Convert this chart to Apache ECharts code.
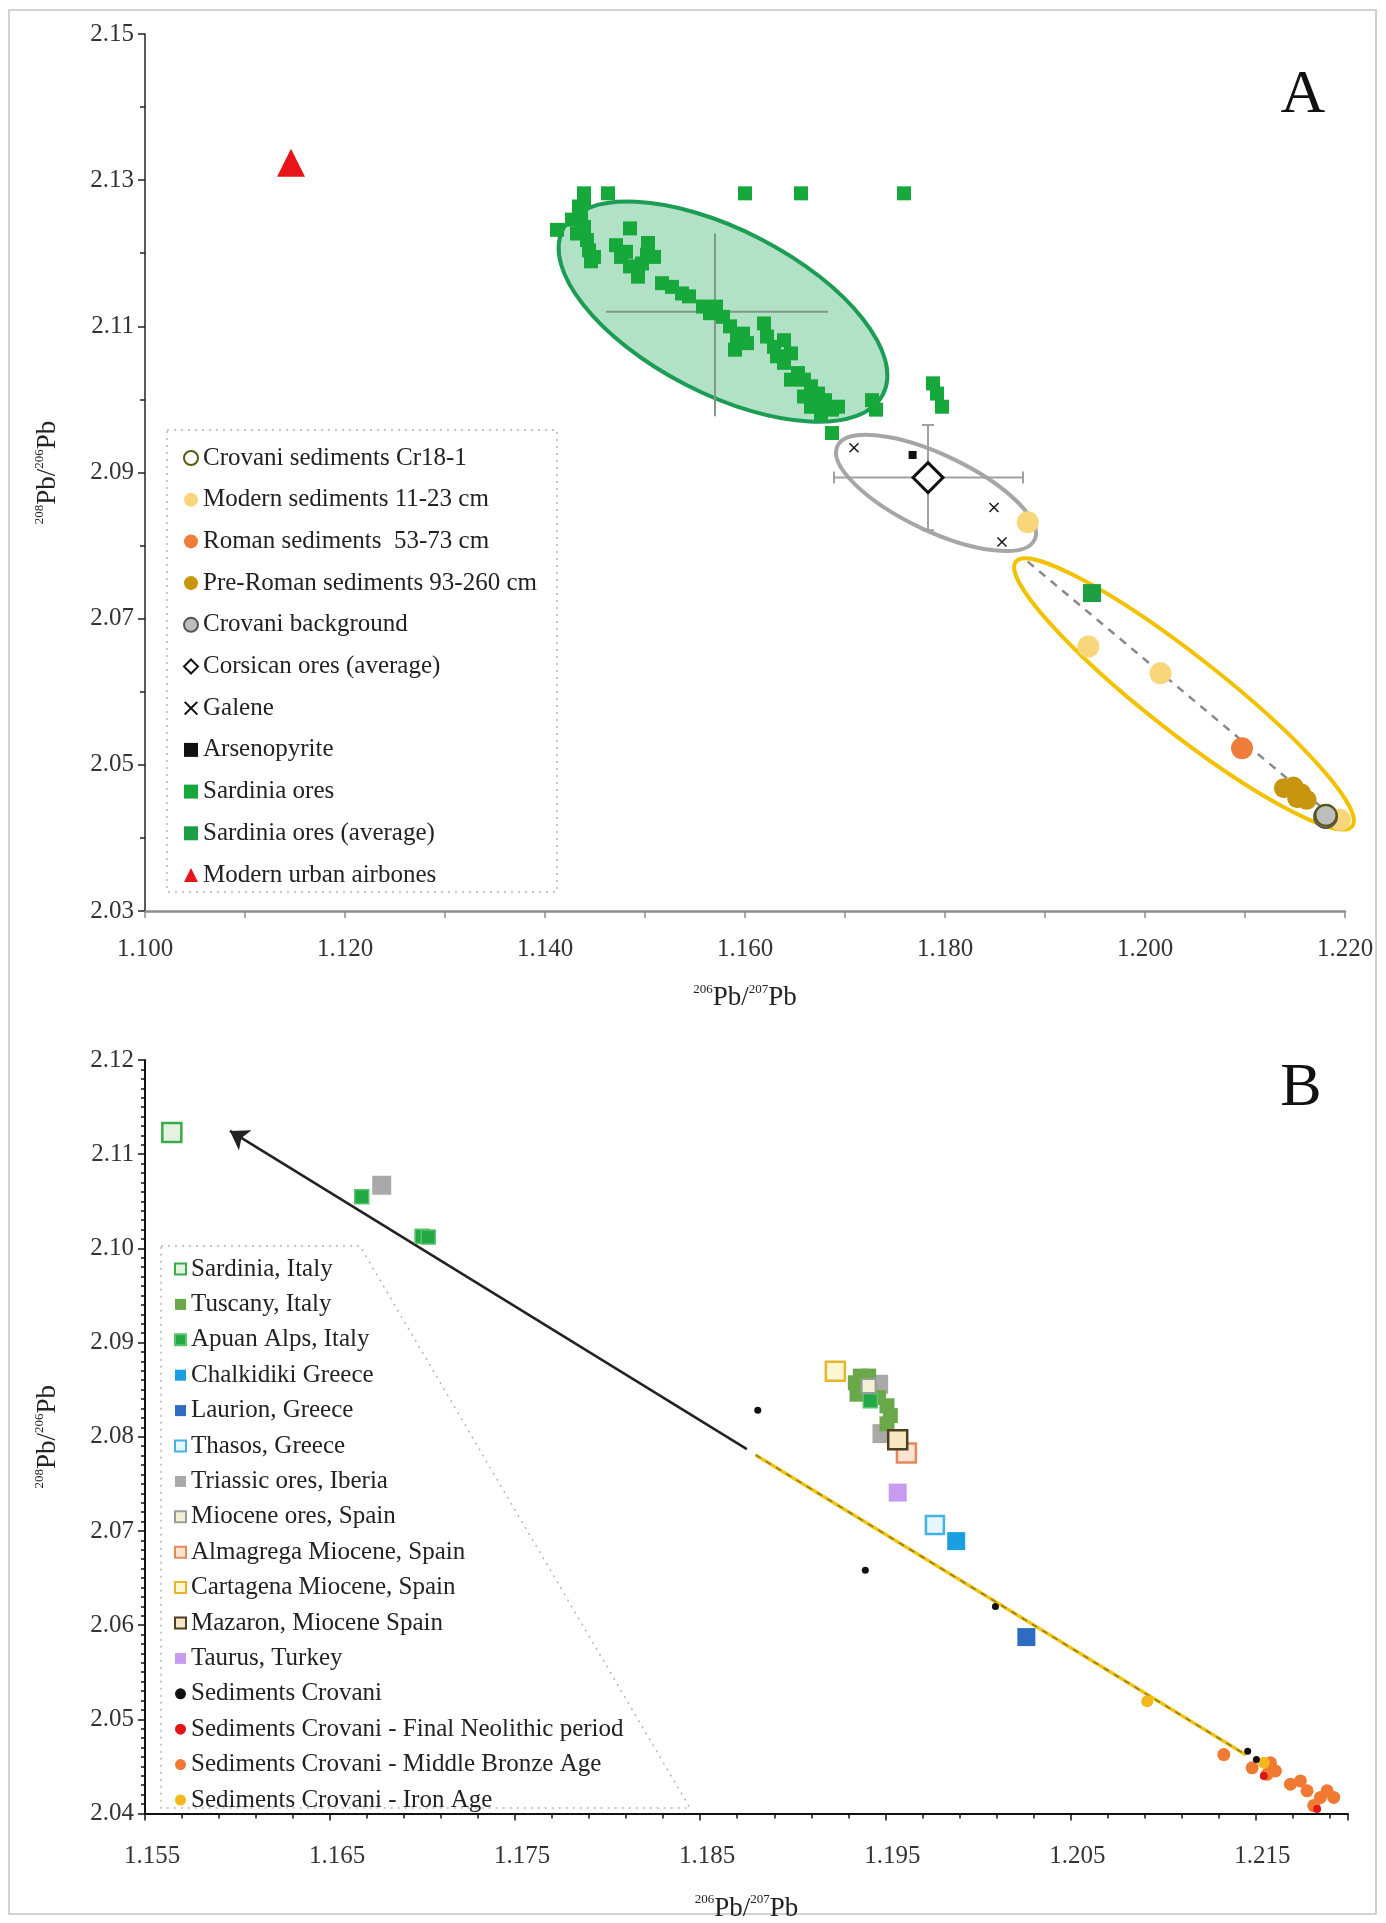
<!DOCTYPE html>
<html>
<head>
<meta charset="utf-8">
<script src="https://cdn.jsdelivr.net/npm/echarts@6/dist/echarts.min.js"></script>
<style>
  html, body { margin: 0; background: #fff; }
  #chart { width: 1386px; height: 1923px; }
</style>
</head>
<body>
<div id="chart"></div>
<script>
// ---------- Panel A : 206Pb/207Pb vs 208Pb/206Pb ----------
const crovaniCr18 = [[1.2181, 2.0431]];
const modernSed = [[1.18827, 2.0832], [1.19434, 2.06618], [1.20155, 2.06254], [1.2195, 2.0425]];
const romanSed = [[1.2097, 2.05228]];
const preRomanSed = [[1.21389, 2.04681], [1.21484, 2.04703], [1.2156, 2.04612], [1.21616, 2.04521], [1.21522, 2.04544]];
const crovaniBackground = [[1.21806, 2.04293]];
const corsicanAvg = [[1.1783, 2.0893]];
const galene = [[1.1709, 2.0934], [1.1849, 2.0852], [1.1857, 2.0805]];
const arsenopyrite = [[1.17676, 2.0924]];
const sardiniaOres = [
  [1.1439, 2.1282], [1.1463, 2.1282], [1.1600, 2.1282], [1.1656, 2.1282], [1.1759, 2.1282],
  [1.1412, 2.1232], [1.1427, 2.1246], [1.1434, 2.1264], [1.1439, 2.1273], [1.1436, 2.1250],
  [1.1439, 2.1236], [1.1442, 2.1218], [1.1444, 2.1204], [1.1446, 2.1189], [1.1449, 2.1195],
  [1.1432, 2.1227],
  [1.1485, 2.1234], [1.1471, 2.1211], [1.1476, 2.1195], [1.1485, 2.1182], [1.1493, 2.1168],
  [1.1503, 2.1214], [1.1509, 2.1195], [1.1497, 2.1186], [1.1481, 2.1202], [1.1502, 2.1198],
  [1.1517, 2.1159], [1.1527, 2.1154], [1.1537, 2.1145], [1.1544, 2.1141], [1.1558, 2.1127],
  [1.1565, 2.1118], [1.1571, 2.1127], [1.1578, 2.1113], [1.1585, 2.1100], [1.1592, 2.1086],
  [1.1590, 2.1068], [1.1598, 2.1090], [1.1602, 2.1077], [1.1619, 2.1104], [1.1622, 2.1086],
  [1.1629, 2.1072], [1.1632, 2.1059], [1.1639, 2.1050], [1.1646, 2.1063], [1.1653, 2.1036],
  [1.1659, 2.1027], [1.1666, 2.1018], [1.1673, 2.1008], [1.1680, 2.0999], [1.1666, 2.0990],
  [1.1687, 2.0986], [1.1676, 2.0981], [1.1693, 2.0990], [1.1727, 2.0999], [1.1731, 2.0986],
  [1.1687, 2.0954], [1.1646, 2.1027], [1.1659, 2.1004], [1.1639, 2.1081],
  [1.1788, 2.1022], [1.1792, 2.1008], [1.1797, 2.0990]
];
const sardiniaAvg = [[1.1947, 2.0735]];
const urbanAirborne = [[1.1146, 2.1324]];

// ellipses: [centre x, centre y, major-axis end x, y, minor-axis end x, y]
const ellipseSardinia = [1.1578, 2.1120, 1.1738, 2.1007, 1.1615, 2.1220];
const ellipseCorsica = [1.1791, 2.0872, 1.18896, 2.0808, 1.18072, 2.09191];
const ellipseSediments = [1.2039, 2.0597, 1.22072, 2.04161, 1.20625, 2.06380];
// error crosses: [centre x, centre y, x low, x high, y low, y high]
const crossSardinia = [1.1570, 2.1120, 1.1461, 1.1683, 2.0977, 2.1227];
const crossCorsica = [1.1783, 2.0893, 1.1689, 1.1878, 2.0821, 2.0965];
const trendA = [[1.18827, 2.07781], [1.21977, 2.04178]];

// ---------- Panel B ----------
const sardiniaIt = [[1.15645, 2.11229]];
const tuscanyIt = [[1.19365, 2.08644], [1.19338, 2.08573], [1.19383, 2.08557], [1.19347, 2.08452],
  [1.19464, 2.08416], [1.19509, 2.08329], [1.19527, 2.08224], [1.19509, 2.08137], [1.19410, 2.08644]];
const apuanAlps = [[1.16671, 2.10548], [1.16997, 2.10129], [1.17030, 2.10120], [1.19419, 2.08382]];
const chalkidiki = [[1.19883, 2.06892]];
const laurion = [[1.20262, 2.05873]];
const thasos = [[1.19768, 2.07064]];
const triassicIberia = [[1.16779, 2.10670], [1.19482, 2.08033], [1.19464, 2.08557]];
const mioceneSpain = [[1.19410, 2.08539]];
const almagrega = [[1.19614, 2.07827]];
const cartagena = [[1.19230, 2.08696]];
const mazaron = [[1.19567, 2.07969]];
const taurus = [[1.19567, 2.07407]];
const sedCrovani = [[1.18811, 2.08281], [1.19392, 2.06583], [1.20095, 2.06198], [1.21458, 2.04660], [1.21505, 2.04573]];
const sedNeolithic = [[1.21545, 2.04398], [1.21833, 2.04049]];
const sedBronze = [[1.21329, 2.04626], [1.21482, 2.04485], [1.21581, 2.04538], [1.21608, 2.04451],
  [1.21563, 2.04416], [1.21689, 2.04311], [1.21743, 2.04346], [1.21779, 2.04241], [1.21851, 2.04171],
  [1.21923, 2.04171], [1.21815, 2.04084], [1.21887, 2.04241]];
const sedIronAge = [[1.20915, 2.05192], [1.21545, 2.04538]];
const arrowB = [[1.18752, 2.07868], [1.15959, 2.11247]];
const trendB = [[1.18799, 2.07807], [1.2145, 2.0462]];

const legendA = ['Crovani sediments Cr18-1', 'Modern sediments 11-23 cm', 'Roman sediments  53-73 cm',
  'Pre-Roman sediments 93-260 cm', 'Crovani background', 'Corsican ores (average)', 'Galene',
  'Arsenopyrite', 'Sardinia ores', 'Sardinia ores (average)', 'Modern urban airbones'];
const legendB = ['Sardinia, Italy', 'Tuscany, Italy', 'Apuan Alps, Italy', 'Chalkidiki Greece',
  'Laurion, Greece', 'Thasos, Greece', 'Triassic ores, Iberia', 'Miocene ores, Spain',
  'Almagrega Miocene, Spain', 'Cartagena Miocene, Spain', 'Mazaron, Miocene Spain', 'Taurus, Turkey',
  'Sediments Crovani', 'Sediments Crovani - Final Neolithic period',
  'Sediments Crovani - Middle Bronze Age', 'Sediments Crovani - Iron Age'];

const SERIF = 'Liberation Serif';
const SQUARE = 'path://M0,0H10V10H0Z';
const DIAMOND = 'path://M5,0L10,5L5,10L0,5Z';
const XMARK = 'path://M1,0L5,4L9,0L10,1L6,5L10,9L9,10L5,6L1,10L0,9L4,5L0,1Z';

function pts(name, data, idx, symbol, size, color, border, bw, z) {
  return {
    name: name, type: 'scatter', xAxisIndex: idx, yAxisIndex: idx,
    data: data, symbol: symbol, symbolSize: size, z: z || 5,
    itemStyle: { color: color, borderColor: border || color, borderWidth: bw || 0, opacity: 1 },
    emphasis: { disabled: true }
  };
}

function ellipseItem(fill, stroke) {
  return function (params, api) {
    const c = api.coord([api.value(0), api.value(1)]);
    const m = api.coord([api.value(2), api.value(3)]);
    const n = api.coord([api.value(4), api.value(5)]);
    return {
      type: 'ellipse',
      x: c[0], y: c[1],
      rotation: -Math.atan2(m[1] - c[1], m[0] - c[0]),
      shape: { cx: 0, cy: 0, rx: Math.hypot(m[0] - c[0], m[1] - c[1]), ry: Math.hypot(n[0] - c[0], n[1] - c[1]) },
      style: { fill: fill, stroke: stroke, lineWidth: 4 }
    };
  };
}

function crossItem(color, cap) {
  return function (params, api) {
    const l = api.coord([api.value(2), api.value(1)]);
    const r = api.coord([api.value(3), api.value(1)]);
    const b = api.coord([api.value(0), api.value(4)]);
    const t = api.coord([api.value(0), api.value(5)]);
    const st = { stroke: color, lineWidth: 2 };
    const kids = [
      { type: 'line', shape: { x1: l[0], y1: l[1], x2: r[0], y2: r[1] }, style: st },
      { type: 'line', shape: { x1: b[0], y1: b[1], x2: t[0], y2: t[1] }, style: st }
    ];
    if (cap) {
      kids.push(
        { type: 'line', shape: { x1: l[0], y1: l[1] - cap, x2: l[0], y2: l[1] + cap }, style: st },
        { type: 'line', shape: { x1: r[0], y1: r[1] - cap, x2: r[0], y2: r[1] + cap }, style: st },
        { type: 'line', shape: { x1: b[0] - cap, y1: b[1], x2: b[0] + cap, y2: b[1] }, style: st },
        { type: 'line', shape: { x1: t[0] - cap, y1: t[1], x2: t[0] + cap, y2: t[1] }, style: st }
      );
    }
    return { type: 'group', children: kids };
  };
}

function shape(name, idx, data, render, z) {
  return {
    name: name, type: 'custom', xAxisIndex: idx, yAxisIndex: idx, z: z,
    data: [data], encode: { x: [0, 2], y: [1, 3] }, renderItem: render, silent: true
  };
}

const richName = {
  b: { fontFamily: SERIF, fontSize: 27, color: '#222', lineHeight: 30 },
  s: { fontFamily: SERIF, fontSize: 13, color: '#222', verticalAlign: 'top', lineHeight: 14 }
};
const pbX = '{s|206}{b|Pb/}{s|207}{b|Pb}';
const pbY = '{s|208}{b|Pb/}{s|206}{b|Pb}';

function axis(opt) {
  const dark = opt.color;
  return {
    gridIndex: opt.grid, type: 'value', min: opt.min, max: opt.max, interval: opt.interval,
    name: opt.name, nameLocation: 'middle', nameGap: opt.nameGap, nameRotate: opt.rot || 0,
    nameTextStyle: { rich: richName },
    axisLine: { show: true, onZero: false, lineStyle: { color: dark, width: opt.lw } },
    axisTick: { show: true, length: 7, lineStyle: { color: dark, width: 1.5 } },
    minorTick: { show: true, splitNumber: opt.minor, length: opt.minorLen, lineStyle: { color: dark, width: 1.5 } },
    splitLine: { show: false },
    axisLabel: {
      fontFamily: SERIF, fontSize: 25, color: '#333', margin: opt.margin,
      padding: opt.pad || 0, formatter: opt.fmt
    }
  };
}

const chart = echarts.init(document.getElementById('chart'));

const option = {
  backgroundColor: '#fff',
  animation: false,
  grid: [
    { left: 145, top: 34, width: 1200, height: 877 },
    { left: 145, top: 1060, width: 1203, height: 763 }
  ],
  xAxis: [
    axis({ grid: 0, min: 1.100, max: 1.220, interval: 0.02, minor: 2, minorLen: 7, color: '#8c8c8c', lw: 2.5,
      name: pbX, nameGap: 72, margin: 26, fmt: v => v.toFixed(3) }),
    axis({ grid: 1, min: 1.155, max: 1.220, interval: 0.01, minor: 5, minorLen: 5, color: '#111', lw: 2,
      name: pbX, nameGap: 80, margin: 30, pad: [0, 0, 0, 14],
      fmt: v => (Math.abs((v - 1.155) / 0.01 - Math.round((v - 1.155) / 0.01)) < 0.02 && v < 1.2175) ? v.toFixed(3) : '' })
  ],
  yAxis: [
    axis({ grid: 0, min: 2.03, max: 2.15, interval: 0.02, minor: 2, minorLen: 5, color: '#222', lw: 1.5,
      name: pbY, nameGap: 82, rot: 90, margin: 11, fmt: v => v.toFixed(2) }),
    axis({ grid: 1, min: 2.04, max: 2.12, interval: 0.01, minor: 10, minorLen: 4, color: '#111', lw: 2,
      name: pbY, nameGap: 82, rot: 90, margin: 11, fmt: v => v.toFixed(2) })
  ],
  legend: [
    {
      data: legendA, orient: 'vertical', left: 178, top: 440, itemWidth: 14, itemHeight: 14,
      itemGap: 15.7, selectedMode: false,
      textStyle: { fontFamily: SERIF, fontSize: 25, color: '#222', lineHeight: 26 }
    },
    {
      data: legendB, orient: 'vertical', left: 169, top: 1251, itemWidth: 11, itemHeight: 11,
      itemGap: 9.4, selectedMode: false,
      textStyle: { fontFamily: SERIF, fontSize: 25, color: '#222', lineHeight: 26 }
    }
  ],
  graphic: [
    { type: 'rect', shape: { x: 9, y: 10, width: 1367, height: 1904 }, style: { fill: 'none', stroke: '#d2d2d2', lineWidth: 2 }, z: -1 },
    { type: 'rect', shape: { x: 167, y: 430, width: 390, height: 462 }, style: { fill: 'none', stroke: '#b5b5b5', lineWidth: 1.5, lineDash: [2, 5] } },
    { type: 'polygon', shape: { points: [[161, 1246], [360, 1246], [690, 1808], [161, 1808]] }, style: { fill: 'none', stroke: '#b5b5b5', lineWidth: 1.5, lineDash: [2, 5] } },
    { type: 'text', x: 1303, y: 96, style: { text: 'A', font: '62px "Liberation Serif"', fill: '#111', align: 'center', verticalAlign: 'middle' } },
    { type: 'text', x: 1301, y: 1089, style: { text: 'B', font: '62px "Liberation Serif"', fill: '#111', align: 'center', verticalAlign: 'middle' } }
  ],
  series: [
    // Panel A shapes
    shape('ell-sardinia', 0, ellipseSardinia, ellipseItem('rgba(70,185,120,0.42)', '#1c9c55'), 1),
    shape('ell-corsica', 0, ellipseCorsica, ellipseItem('none', '#a6a6a6'), 1),
    shape('ell-sed', 0, ellipseSediments, ellipseItem('none', '#f2c200'), 1),
    shape('cross-sardinia', 0, crossSardinia, crossItem('#7f9a88', 0), 2),
    shape('cross-corsica', 0, crossCorsica, crossItem('#a0a0a0', 6), 2),
    {
      name: 'trendA', type: 'line', xAxisIndex: 0, yAxisIndex: 0, data: trendA, symbol: 'none', z: 2,
      lineStyle: { color: '#8a8a8a', width: 2.5, type: [8, 7] }, silent: true
    },
    // Panel A points
    pts('Sardinia ores', sardiniaOres, 0, SQUARE, 14, '#17a83b', null, 0, 4),
    pts('Sardinia ores (average)', sardiniaAvg, 0, SQUARE, 18, '#1d9f45', null, 0, 4),
    pts('Galene', galene, 0, XMARK, 10, '#111', null, 0, 6),
    pts('Arsenopyrite', arsenopyrite, 0, SQUARE, 8, '#111', null, 0, 6),
    pts('Corsican ores (average)', corsicanAvg, 0, DIAMOND, 30, '#fff', '#111', 3, 6),
    pts('Modern sediments 11-23 cm', modernSed, 0, 'circle', 22, '#f8d77c', null, 0, 5),
    pts('Roman sediments  53-73 cm', romanSed, 0, 'circle', 22, '#ee7d3b', null, 0, 5),
    pts('Pre-Roman sediments 93-260 cm', preRomanSed, 0, 'circle', 20, '#c8950e', null, 0, 5),
    pts('Crovani background', crovaniBackground, 0, 'circle', 23, '#bdbdbd', '#555', 2, 6),
    pts('Crovani sediments Cr18-1', crovaniCr18, 0, 'circle', 21, 'rgba(255,255,255,0)', '#5c5a12', 2, 7),
    pts('Modern urban airbones', urbanAirborne, 0, 'triangle', 28, '#e8141c', null, 0, 5),
    // Panel B lines
    {
      name: 'arrowB', type: 'line', xAxisIndex: 1, yAxisIndex: 1, data: [], z: 2, silent: true,
      markLine: {
        silent: true, symbol: ['none', 'arrow'], symbolSize: 18, label: { show: false },
        lineStyle: { color: '#222', width: 2.5, type: 'solid' },
        data: [[{ coord: arrowB[0] }, { coord: arrowB[1] }]]
      }
    },
    {
      name: 'trendB', type: 'line', xAxisIndex: 1, yAxisIndex: 1, data: trendB, symbol: 'none', z: 2,
      lineStyle: { color: '#f2c30f', width: 3.5 }, silent: true
    },
    {
      name: 'trendB-dash', type: 'line', xAxisIndex: 1, yAxisIndex: 1, data: trendB, symbol: 'none', z: 2,
      lineStyle: { color: '#8a7a2a', width: 1.5, type: [6, 6] }, silent: true
    },
    // Panel B points
    pts('Sardinia, Italy', sardiniaIt, 1, SQUARE, 19, '#e3f3df', '#3aab4b', 2.5, 5),
    pts('Triassic ores, Iberia', triassicIberia, 1, SQUARE, 19, '#a9a9a9', null, 0, 5),
    pts('Tuscany, Italy', tuscanyIt, 1, SQUARE, 15, '#6aa84a', null, 0, 5),
    pts('Apuan Alps, Italy', apuanAlps, 1, SQUARE, 14, '#22a844', '#59c46a', 1.5, 6),
    pts('Miocene ores, Spain', mioceneSpain, 1, SQUARE, 14, '#f4f0d6', '#9a9a9a', 2, 6),
    pts('Cartagena Miocene, Spain', cartagena, 1, SQUARE, 19, '#fff6d2', '#e6b52c', 2.5, 6),
    pts('Mazaron, Miocene Spain', mazaron, 1, SQUARE, 19, '#f6e6c2', '#4c3f22', 2.5, 7),
    pts('Almagrega Miocene, Spain', almagrega, 1, SQUARE, 19, '#fde3d2', '#e38a5b', 2.5, 6),
    pts('Taurus, Turkey', taurus, 1, SQUARE, 18, '#c79cf0', null, 0, 5),
    pts('Thasos, Greece', thasos, 1, SQUARE, 18, '#e6f6fd', '#44b2e6', 2.5, 5),
    pts('Chalkidiki Greece', chalkidiki, 1, SQUARE, 18, '#1c9fe0', null, 0, 5),
    pts('Laurion, Greece', laurion, 1, SQUARE, 18, '#2e6cc2', null, 0, 5),
    pts('Sediments Crovani - Middle Bronze Age', sedBronze, 1, 'circle', 13, '#f07a32', null, 0, 5),
    pts('Sediments Crovani - Iron Age', sedIronAge, 1, 'circle', 12, '#f5b81c', null, 0, 6),
    pts('Sediments Crovani - Final Neolithic period', sedNeolithic, 1, 'circle', 8, '#e01515', null, 0, 7),
    pts('Sediments Crovani', sedCrovani, 1, 'circle', 7, '#111', null, 0, 7)
  ]
};

chart.setOption(option);
</script>
</body>
</html>
